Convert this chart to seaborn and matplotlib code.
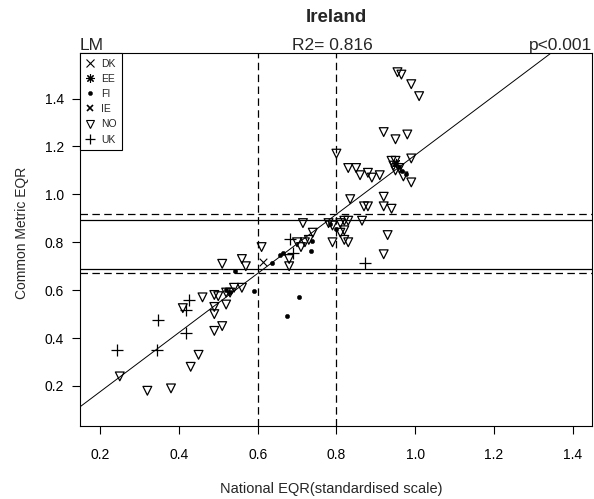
import pandas as pd
import seaborn as sns
import matplotlib.pyplot as plt
from matplotlib.lines import Line2D

# national EQR (x) vs common metric EQR (y)
no_x = [0.25, 0.32, 0.38, 0.43, 0.45, 0.49, 0.51, 0.49, 0.49, 0.52, 0.46, 0.49, 0.50, 0.53,
        0.54, 0.56, 0.41, 0.51, 0.56, 0.57, 0.61, 0.68, 0.68, 0.70, 0.72, 0.73, 0.74, 0.715,
        0.78, 0.79, 0.81, 0.83, 0.81, 0.82, 0.79, 0.83, 0.82, 0.835, 0.87, 0.88, 0.92, 0.92,
        0.94, 0.865, 0.93, 0.92, 0.80, 0.83, 0.85, 0.86, 0.88, 0.89, 0.91, 0.94, 0.95, 0.99,
        0.95, 0.97, 0.99, 0.945, 0.96, 0.92, 0.95, 0.98, 0.955, 0.965, 0.99, 1.01, 0.71, 0.52,
        0.82]
no_y = [0.24, 0.18, 0.19, 0.28, 0.33, 0.43, 0.45, 0.50, 0.53, 0.54, 0.57, 0.58, 0.575, 0.59,
        0.61, 0.61, 0.525, 0.71, 0.73, 0.70, 0.78, 0.73, 0.70, 0.80, 0.80, 0.81, 0.84, 0.88,
        0.88, 0.87, 0.88, 0.89, 0.84, 0.85, 0.80, 0.80, 0.81, 0.98, 0.95, 0.95, 0.99, 0.95,
        0.94, 0.89, 0.83, 0.75, 1.17, 1.11, 1.11, 1.08, 1.09, 1.07, 1.08, 1.14, 1.14, 1.15,
        1.10, 1.075, 1.05, 1.12, 1.11, 1.26, 1.23, 1.25, 1.51, 1.50, 1.46, 1.41, 0.78, 0.59,
        0.89]

uk_x = [0.243, 0.347, 0.345, 0.418, 0.426, 0.418, 0.682, 0.690, 0.873]
uk_y = [0.35, 0.475, 0.35, 0.421, 0.558, 0.517, 0.8125, 0.754, 0.7125]

fi_x = [0.52, 0.53, 0.591, 0.543, 0.637, 0.657, 0.664, 0.675, 0.705, 0.736, 0.738, 0.784,
        0.799, 0.949, 0.959, 0.966, 0.977]
fi_y = [0.60, 0.592, 0.596, 0.679, 0.7125, 0.746, 0.754, 0.492, 0.571, 0.7625, 0.804, 0.875,
        0.854, 1.125, 1.1125, 1.096, 1.083]

dk_x = [0.614]
dk_y = [0.717]
ee_x = [0.951]
ee_y = [1.133]

countries = ["DK", "EE", "FI", "IE", "NO", "UK"]

# regression and class boundaries
slope, intercept = 1.235, -0.071
boundaries = [0.6, 0.8]
band = [0.69, 0.893]

df = pd.concat([
    pd.DataFrame({"country": "NO", "national": no_x, "common": no_y}),
    pd.DataFrame({"country": "UK", "national": uk_x, "common": uk_y}),
    pd.DataFrame({"country": "FI", "national": fi_x, "common": fi_y}),
    pd.DataFrame({"country": "DK", "national": dk_x, "common": dk_y}),
    pd.DataFrame({"country": "EE", "national": ee_x, "common": ee_y}),
], ignore_index=True)

sns.set_theme(style="ticks")
plt.rcParams["font.family"] = ["Liberation Sans", "DejaVu Sans"]

fig = plt.figure(figsize=(5.94, 4.99), dpi=100)
ax = fig.add_axes([0.1347, 0.1463, 0.8620, 0.7469])

# reference lines
for b in boundaries:
    ax.axvline(b, color="black", lw=0.9, ls=(0, (6, 3.5)), zorder=1)
    ax.axhline(intercept + slope * b, color="black", lw=0.9, ls=(0, (6, 3.5)), zorder=1)
for b in band:
    ax.axhline(b, color="black", lw=0.9, zorder=1)
ax.axline((0, intercept), slope=slope, color="black", lw=0.7, zorder=1)

styles = {
    "NO": dict(marker="v", s=40, facecolor="none", edgecolor="black", linewidth=0.9),
    "UK": dict(marker="+", s=64, linewidth=0.9),
    "FI": dict(marker="o", s=10, edgecolor="black", linewidth=0.3),
    "DK": dict(marker="x", s=30, linewidth=0.8),
    "EE": dict(marker=(8, 2, 0), s=36, linewidth=0.8),
}
for c, st in styles.items():
    sub = df[df["country"] == c]
    sns.scatterplot(data=sub, x="national", y="common", color="black", ax=ax,
                    legend=False, zorder=3, **st)

ax.set_xlim(0.149, 1.449)
ax.set_ylim(0.033, 1.589)
ax.set_xticks([0.2, 0.4, 0.6, 0.8, 1.0, 1.2, 1.4])
ax.set_yticks([0.2, 0.4, 0.6, 0.8, 1.0, 1.2, 1.4])
ax.set_xticklabels([f"{v:.1f}" for v in ax.get_xticks()])
ax.set_yticklabels([f"{v:.1f}" for v in ax.get_yticks()])
ax.tick_params(axis="x", length=5.5, width=0.8, pad=10.5, labelsize=10, colors="black")
ax.tick_params(axis="y", length=5.5, width=0.8, pad=6, labelsize=10, colors="black")
for sp in ax.spines.values():
    sp.set_visible(True)
    sp.set_color("black")
    sp.set_linewidth(0.8)

ax.set_xlabel("National EQR(standardised scale)", fontsize=10.5)
ax.set_ylabel("Common Metric EQR", fontsize=10)
ax.xaxis.set_label_coords(0.49, -0.15)
ax.yaxis.set_label_coords(-0.1006, 0.517)

fig.text(0.5657, 1 - 18 / 499, "Ireland", ha="center", va="center",
         fontsize=13.5, fontweight="bold")
ax.text(0.0, 1.0, "LM", transform=ax.transAxes, ha="left", va="bottom", fontsize=12.5)
ax.text(0.492, 1.0, "R2= 0.816", transform=ax.transAxes, ha="center", va="bottom", fontsize=12.5)
ax.text(1.0, 1.0, "p<0.001", transform=ax.transAxes, ha="right", va="bottom", fontsize=12.5)

legend_marks = {
    "DK": dict(marker="x", markersize=5.5, markeredgewidth=0.8),
    "EE": dict(marker=(8, 2, 0), markersize=6, markeredgewidth=0.8),
    "FI": dict(marker="o", markersize=3, markeredgewidth=0.3),
    "IE": dict(marker="x", markersize=4, markeredgewidth=1.2),
    "NO": dict(marker="v", markersize=6, markerfacecolor="none", markeredgewidth=0.8),
    "UK": dict(marker="+", markersize=7, markeredgewidth=0.9),
}
handles = [Line2D([], [], color="black", linestyle="none", **legend_marks[c]) for c in countries]
leg = ax.legend(handles, countries, loc="upper left", borderaxespad=0, fontsize=7.5,
                handlelength=1.0, handletextpad=0.55, borderpad=0.5, labelspacing=0.5,
                fancybox=False, framealpha=1, edgecolor="black")
leg.get_frame().set_linewidth(0.8)

fig.savefig("out.png", dpi=100)
